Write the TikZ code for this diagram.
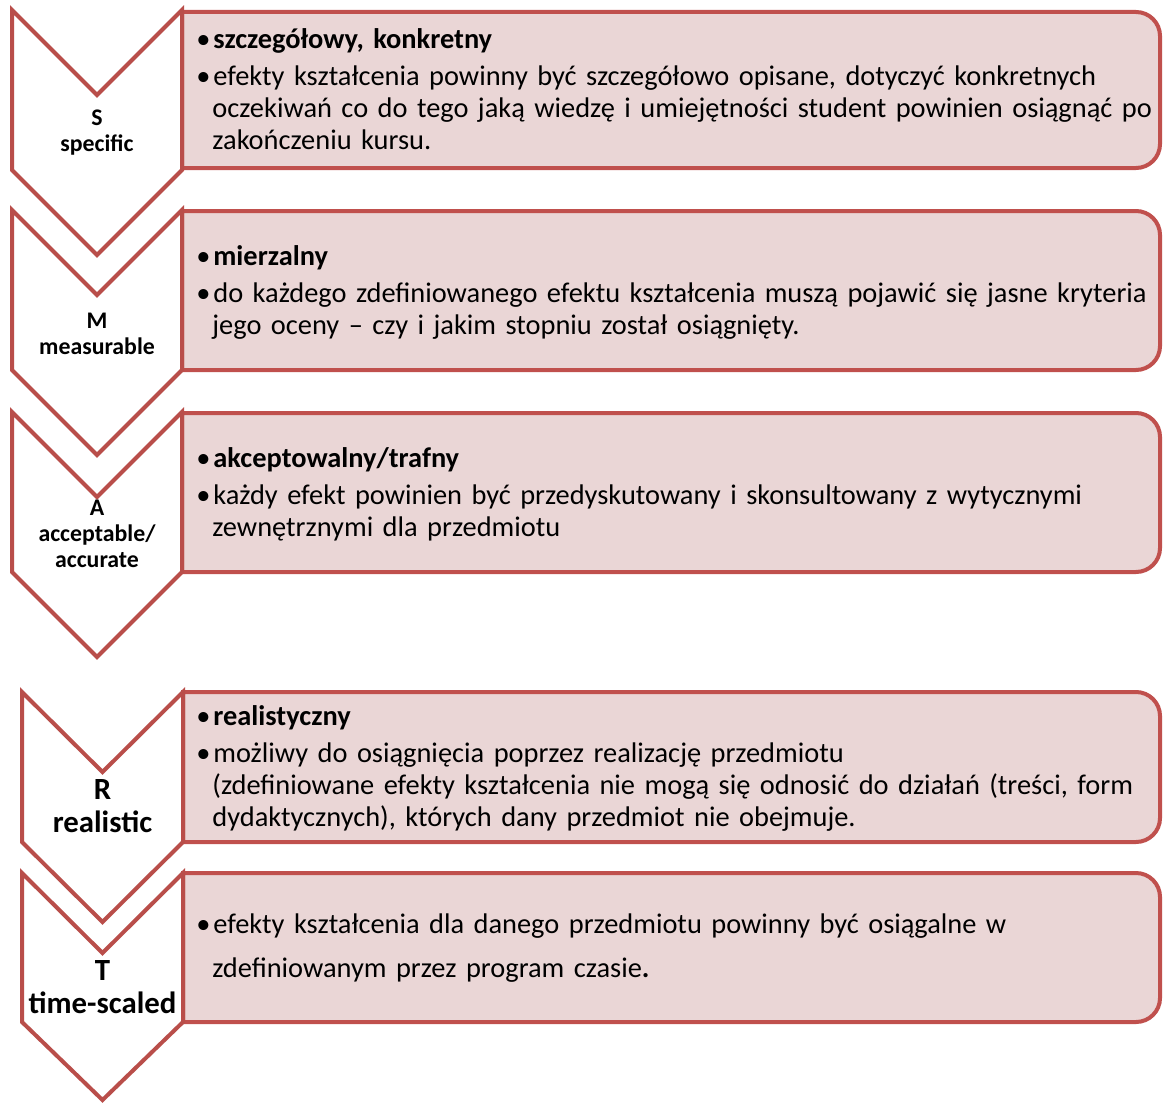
\documentclass[tikz,border=0pt]{standalone}
\usepackage{fontspec}
\setmainfont{Carlito}
\usepackage{tikz}
\usetikzlibrary{positioning}
\tikzset{
    chevron/.style = {draw=chevline, fill=white, line width=2pt, line join=miter},
    boxshape/.style = {draw=boxline, fill=boxfill, line width=2pt},
    textnode/.style = {draw=none, fill=none, rectangle, inner sep=0em, anchor=north west,
      text width=540pt, align=left, font=\fontsize{14.2}{16}\selectfont},
    letternode/.style = {draw=none, fill=none, rectangle, inner sep=0em, anchor=north,
      text width=85pt, align=center, font=\bfseries\fontsize{11.9}{13}\selectfont},
    bigletternode/.style = {letternode, font=\bfseries\fontsize{15.4}{16.5}\selectfont}
}
\definecolor{chevline}{RGB}{185, 78, 74}
\definecolor{boxline}{RGB}{192, 80, 77}
\definecolor{boxfill}{RGB}{234, 214, 214}
\newcommand{\bul}{\makebox[8.5pt][l]{\textbullet}}
\newcommand{\ind}{\hspace*{8pt}}

\begin{document}
\begin{tikzpicture}[x=0.5pt, y=-0.5pt]
    \useasboundingbox (0,0) rectangle (1166,1102);

    % boxes, rounded on the right side only
    \draw[boxshape] (182,12) -- (1136,12) arc[start angle=-90, end angle=0, radius=24]
      -- (1160,144) arc[start angle=0, end angle=90, radius=24] -- (182,168) -- cycle;
    \draw[boxshape] (182,211) -- (1136,211) arc[start angle=-90, end angle=0, radius=24]
      -- (1160,346) arc[start angle=0, end angle=90, radius=24] -- (182,370) -- cycle;
    \draw[boxshape] (182,413) -- (1136,413) arc[start angle=-90, end angle=0, radius=24]
      -- (1160,548) arc[start angle=0, end angle=90, radius=24] -- (182,572) -- cycle;
    \draw[boxshape] (183,692) -- (1136,692) arc[start angle=-90, end angle=0, radius=24]
      -- (1160,818) arc[start angle=0, end angle=90, radius=24] -- (183,842) -- cycle;
    \draw[boxshape] (183,873) -- (1136,873) arc[start angle=-90, end angle=0, radius=24]
      -- (1160,998) arc[start angle=0, end angle=90, radius=24] -- (183,1022) -- cycle;

    % chevrons
    \draw[chevron] (12,10) -- (97,95) -- (182,10) -- (182,170) -- (97,255) -- (12,170) -- cycle;
    \draw[chevron] (12,210) -- (97,295) -- (182,210) -- (182,370) -- (97,455) -- (12,370) -- cycle;
    \draw[chevron] (12,412) -- (97,497) -- (182,412) -- (182,572) -- (97,657) -- (12,572) -- cycle;
    \draw[chevron] (22,692) -- (102.5,772) -- (183,692) -- (183,842) -- (102.5,922) -- (22,842) -- cycle;
    \draw[chevron] (22,873) -- (102.5,953) -- (183,873) -- (183,1022) -- (102.5,1100) -- (22,1022) -- cycle;

    % letters
    \node[letternode, name=S] at (97,106.8) {\strut S\\ specific};
    \node[letternode, name=M] at (97,309.8) {\strut M\\ measurable};
    \node[letternode, name=A] at (97,496.8) {\strut A\\ acceptable/\\ accurate};
    \node[bigletternode, name=R] at (102.5,775.9) {\strut R\\ realistic};
    \node[bigletternode, name=T] at (102.5,956.9) {\strut T\\ time-scaled};

    % descriptions
    \node[textnode, name=specS] at (196,25.6) {\strut\bul\textbf{szczegółowy, konkretny}\\[2.5pt]
      \bul efekty kształcenia powinny być szczegółowo opisane, dotyczyć konkretnych\\
      \ind oczekiwań co do tego jaką wiedzę i umiejętności student powinien osiągnąć po\\
      \ind zakończeniu kursu.};
    \node[textnode, name=specM] at (196,242.6) {\strut\bul\textbf{mierzalny}\\[2.5pt]
      \bul do każdego zdefiniowanego efektu kształcenia muszą pojawić się jasne kryteria\\
      \ind jego oceny – czy i jakim stopniu został osiągnięty.};
    \node[textnode, name=specA] at (196,444.6) {\strut\bul\textbf{akceptowalny/trafny}\\[2.5pt]
      \bul każdy efekt powinien być przedyskutowany i skonsultowany z wytycznymi\\
      \ind zewnętrznymi dla przedmiotu};
    \node[textnode, name=specR] at (196,702.6) {\strut\bul\textbf{realistyczny}\\[2.5pt]
      \bul możliwy do osiągnięcia poprzez realizację przedmiotu\\
      \ind (zdefiniowane efekty kształcenia nie mogą się odnosić do działań (treści, form\\
      \ind dydaktycznych), których dany przedmiot nie obejmuje.};
    \node[textnode, name=specT] at (196,910.6) {\strut\bul efekty kształcenia dla danego przedmiotu powinny być osiągalne w\\[6pt]
      \ind zdefiniowanym przez program czasie\textbf{.}};
\end{tikzpicture}
\end{document}
